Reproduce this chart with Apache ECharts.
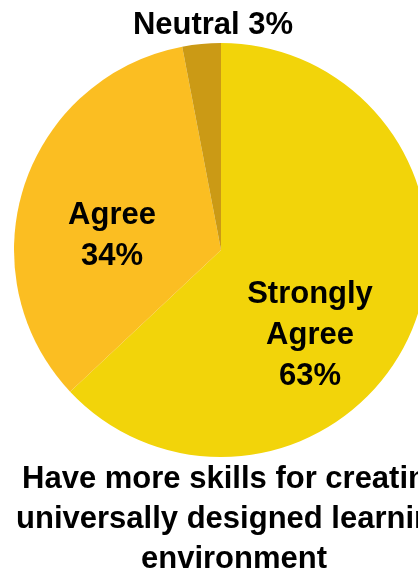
<!DOCTYPE html>
<html>
<head>
<meta charset="utf-8">
<script src="https://cdn.jsdelivr.net/npm/echarts@6/dist/echarts.min.js"></script>
<style>
html,body{margin:0;padding:0;background:#fff;}
#chart{width:418px;height:574px;}
</style>
</head>
<body>
<div id="chart"></div>
<script>
const categories = ['Strongly Agree', 'Agree', 'Neutral'];
const values = [63, 34, 3];
const colors = ['#F2D40A', '#FBBE22', '#CB9A15'];
const titleText = 'Have more skills for creating\nuniversally designed learning\nenvironment';

const labelPos = [[310, 335], [112, 236], [213, 25]];

const chart = echarts.init(document.getElementById('chart'), null, {renderer: 'canvas'});
chart.setOption({
  animation: false,
  title: {
    text: titleText,
    left: 234,
    top: 459,
    padding: 0,
    textAlign: 'center',
    textStyle: {
      fontFamily: 'Liberation Sans, Arial, sans-serif',
      fontSize: 31,
      fontWeight: 'bold',
      color: '#000',
      lineHeight: 40
    }
  },
  series: [{
    type: 'pie',
    center: [221, 250],
    radius: 207,
    startAngle: 90,
    clockwise: true,
    silent: true,
    data: categories.map((c, i) => ({name: c, value: values[i], itemStyle: {color: colors[i]}})),
    itemStyle: {borderWidth: 0},
    label: {
      show: true,
      position: 'inside',
      fontFamily: 'Liberation Sans, Arial, sans-serif',
      fontSize: 31,
      fontWeight: 'bold',
      color: '#000',
      lineHeight: 41,
      align: 'center',
      formatter: function (p) {
        if (p.name === 'Neutral') return p.name + ' ' + p.value + '%';
        return p.name.replace(' ', '\n') + '\n' + p.value + '%';
      }
    },
    labelLine: {show: false},
    labelLayout: function (p) {
      const pos = labelPos[p.dataIndex];
      return {x: pos[0], y: pos[1], align: 'center', verticalAlign: 'middle'};
    }
  }]
});
</script>
</body>
</html>
